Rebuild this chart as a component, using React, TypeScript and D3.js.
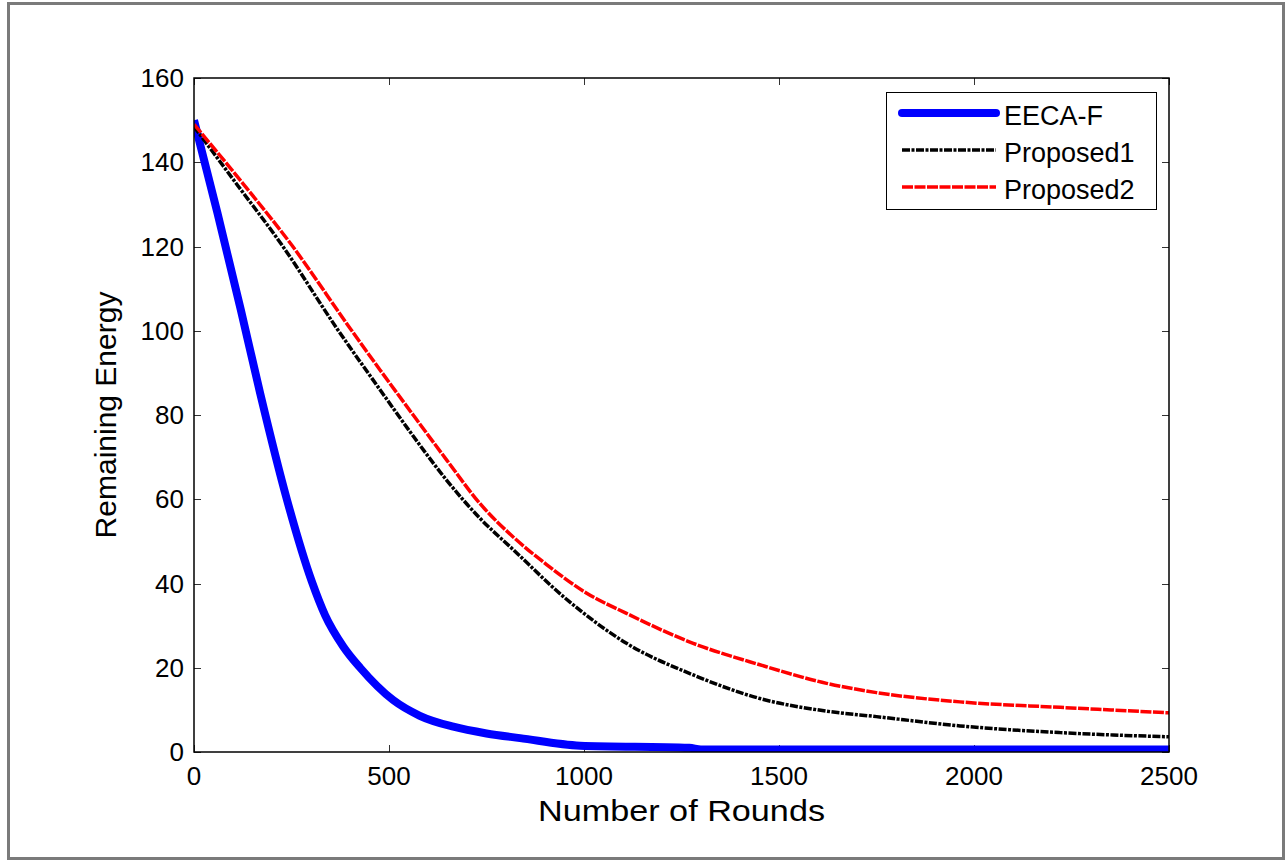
import React, { useEffect, useRef } from "react";
import * as d3 from "d3";

// values
const eecaRounds = [0, 60, 120, 170, 238, 302, 336, 383, 426, 511, 579, 665, 750, 836, 990, 1270, 1300, 1600, 2000, 2500];
const eecaEnergy = [150, 128, 105, 85, 60, 40.5, 32.5, 25, 20, 12.3, 8.6, 6.0, 4.4, 3.3, 1.5, 1.0, 0.6, 0.6, 0.6, 0.6];

const p1Rounds = [0, 112, 225, 366, 477, 562, 648, 733, 819, 947, 1109, 1280, 1451, 1622, 1750, 1964, 2221, 2500];
const p1Energy = [148.5, 134.5, 120.4, 100.6, 86, 75, 64.5, 55.5, 48, 36.9, 25.8, 18.3, 12.7, 9.7, 8.4, 6.2, 4.6, 3.6];

const p2Rounds = [0, 125, 250, 400, 477, 562, 648, 733, 819, 904, 1007, 1109, 1280, 1451, 1622, 1750, 1964, 2221, 2500];
const p2Energy = [149, 135, 120.4, 100.6, 90.7, 80, 69.3, 59, 51, 44.5, 37.7, 32.9, 25.8, 20.7, 16.3, 14.1, 11.9, 10.6, 9.3];

const xTicks = [0, 500, 1000, 1500, 2000, 2500];
const yTicks = [0, 20, 40, 60, 80, 100, 120, 140, 160];

const seriesNames = ["EECA-F", "Proposed1", "Proposed2"];

const FONT = "'Liberation Sans', Arial, sans-serif";

const App = () => {
  const svgRef = useRef<SVGSVGElement>(null);

  useEffect(() => {
    const svg = d3.select(svgRef.current);
    svg.selectAll("*").remove();

    const plot = { left: 194, top: 78, right: 1169, bottom: 752 };

    // outer frame of the figure
    svg
      .append("rect")
      .attr("x", 8.5)
      .attr("y", 3.5)
      .attr("width", 1275)
      .attr("height", 855)
      .attr("fill", "white")
      .attr("stroke", "#7a7a7a")
      .attr("stroke-width", 3);

    const x = d3.scaleLinear().domain([0, 2500]).range([plot.left, plot.right]);
    const y = d3.scaleLinear().domain([0, 160]).range([plot.bottom, plot.top]);

    svg
      .append("clipPath")
      .attr("id", "plotClip")
      .append("rect")
      .attr("x", plot.left)
      .attr("y", plot.top)
      .attr("width", plot.right - plot.left)
      .attr("height", plot.bottom - plot.top);

    // ticks pointing inward on all four sides
    const tickLen = 7;
    const ticks = svg.append("g").attr("stroke", "#333").attr("stroke-width", 1);
    xTicks.forEach((t) => {
      const px = Math.round(x(t)) + 0.5;
      ticks.append("line").attr("x1", px).attr("x2", px).attr("y1", plot.bottom).attr("y2", plot.bottom - tickLen);
      ticks.append("line").attr("x1", px).attr("x2", px).attr("y1", plot.top).attr("y2", plot.top + tickLen);
    });
    yTicks.forEach((t) => {
      const py = Math.round(y(t)) + 0.5;
      ticks.append("line").attr("x1", plot.left).attr("x2", plot.left + tickLen).attr("y1", py).attr("y2", py);
      ticks.append("line").attr("x1", plot.right).attr("x2", plot.right - tickLen).attr("y1", py).attr("y2", py);
    });

    // tick labels
    const labels = svg.append("g").attr("font-family", FONT).attr("font-size", 26).attr("fill", "black");
    xTicks.forEach((t) => {
      labels
        .append("text")
        .attr("x", x(t))
        .attr("y", 785)
        .attr("text-anchor", "middle")
        .text(t);
    });
    yTicks.forEach((t) => {
      labels
        .append("text")
        .attr("x", 184)
        .attr("y", y(t))
        .attr("dy", "0.35em")
        .attr("text-anchor", "end")
        .text(t);
    });

    // axis titles
    svg
      .append("text")
      .attr("x", (plot.left + plot.right) / 2)
      .attr("y", 821)
      .attr("text-anchor", "middle")
      .attr("font-family", FONT)
      .attr("font-size", 30)
      .attr("textLength", 287)
      .attr("lengthAdjust", "spacingAndGlyphs")
      .text("Number of Rounds");

    svg
      .append("text")
      .attr("transform", `translate(116,${(plot.top + plot.bottom) / 2}) rotate(-90)`)
      .attr("text-anchor", "middle")
      .attr("font-family", FONT)
      .attr("font-size", 30)
      .text("Remaining Energy");

    // curves
    const line = d3
      .line<[number, number]>()
      .x((d) => x(d[0]))
      .y((d) => y(d[1]))
      .curve(d3.curveMonotoneX);

    const curves = svg.append("g").attr("clip-path", "url(#plotClip)");

    const styles = [
      { color: "#0000ff", width: 8, dash: null as string | null },
      { color: "#000000", width: 3.5, dash: "8,1.5,3,1.5" },
      { color: "#ff0000", width: 3.5, dash: "11,1.5" },
    ];
    const data: [number, number][][] = [
      eecaRounds.map((r, i) => [r, eecaEnergy[i]]),
      p1Rounds.map((r, i) => [r, p1Energy[i]]),
      p2Rounds.map((r, i) => [r, p2Energy[i]]),
    ];

    data.forEach((pts, i) => {
      const s = styles[i];
      const path = curves
        .append("path")
        .datum(pts)
        .attr("d", line)
        .attr("fill", "none")
        .attr("stroke", s.color)
        .attr("stroke-width", s.width)
        .attr("stroke-linejoin", "round");
      if (s.dash) path.attr("stroke-dasharray", s.dash);
    });

    // plot box
    svg
      .append("rect")
      .attr("x", plot.left)
      .attr("y", plot.top)
      .attr("width", plot.right - plot.left)
      .attr("height", plot.bottom - plot.top)
      .attr("fill", "none")
      .attr("stroke", "black")
      .attr("stroke-width", 1.5);

    // legend
    const legend = svg.append("g");
    legend
      .append("rect")
      .attr("x", 886.5)
      .attr("y", 92.5)
      .attr("width", 270)
      .attr("height", 117)
      .attr("fill", "white")
      .attr("stroke", "black")
      .attr("stroke-width", 1);

    seriesNames.forEach((name, i) => {
      const ly = 113 + i * 37;
      const s = styles[i];
      const l = legend
        .append("line")
        .attr("x1", 902)
        .attr("x2", 996)
        .attr("y1", ly)
        .attr("y2", ly)
        .attr("stroke", s.color)
        .attr("stroke-width", s.width)
        .attr("stroke-linecap", i === 0 ? "round" : "butt");
      if (s.dash) l.attr("stroke-dasharray", s.dash);
      legend
        .append("text")
        .attr("x", 1004)
        .attr("y", ly + 3)
        .attr("dy", "0.35em")
        .attr("font-family", FONT)
        .attr("font-size", 27)
        .text(name);
    });
  }, []);

  return (
    <svg
      ref={svgRef}
      width={1286}
      height={861}
      style={{ position: "absolute", left: 0, top: 0, background: "white" }}
    ></svg>
  );
};

export default App;
